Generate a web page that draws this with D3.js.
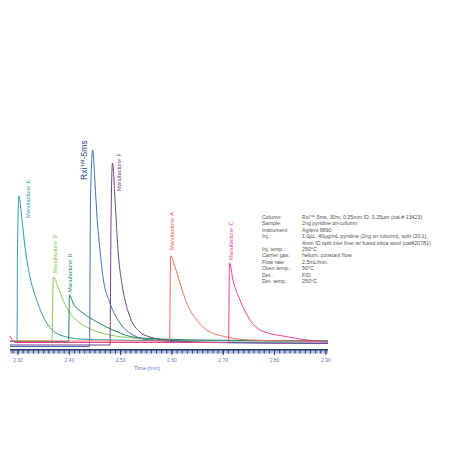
<!DOCTYPE html>
<html>
<head>
<meta charset="utf-8">
<script src="https://cdn.jsdelivr.net/npm/d3@7"></script>
<style>
  body { margin:0; background:#fff; }
  svg { display:block; }
</style>
</head>
<body>
<svg id="chart" width="454" height="454"></svg>
<script>
// ---- data (time in min, signal in arbitrary units) ----
let seriesNames = ["Manufacturer E","Manufacturer B","Manufacturer D","Rxi\u2122-5ms","Manufacturer F","Manufacturer A","Manufacturer C"];
let seriesColors = ["#2a9cab","#8cc754","#23806c","#3f72b8","#6e4589","#f26f5e","#e8409c"];
let labelColors  = ["#2a9cab","#86c04e","#23806c","#1d3f8f","#6e4589","#f0614f","#e8409c"];

let timeE = [2.2844,2.2981,2.2990,2.3019,2.3072,2.3136,2.3234,2.3364,2.3559,2.3819,2.4208,2.4793,2.5573,2.9042];
let sigE  = [0.5,1,92,146,125,95,65,42,19,7,3,2,1.5,1];

let timeB = [2.2844,2.3663,2.3688,2.3780,2.3877,2.4013,2.4208,2.4462,2.4793,2.5241,2.5573,2.6547,2.9042];
let sigB  = [1,1,65,55,42,29,19,12,7,4,2.5,1.5,1];

let timeD = [2.2844,2.3984,2.4004,2.4072,2.4267,2.4540,2.4852,2.5241,2.5573,2.6547,2.9042];
let sigD  = [0.5,0.5,47,39,29,20,12,5,3.5,2,1];

let timeRxi = [2.2844,2.4394,2.4413,2.4456,2.4501,2.4540,2.4598,2.4657,2.4793,2.4988,2.5241,2.5573,2.6547,2.9042];
let sigRxi  = [-4.5,-4.5,142,192,159,125,92,65,39,19,7,2,-0.5,-1];

let timeF = [2.2844,2.4793,2.4813,2.4842,2.4891,2.4949,2.5047,2.5183,2.5378,2.5573,2.5963,2.6937,2.9042];
let sigF  = [-3,-3,122,179,142,92,52,25,10,5,1.5,-0.5,-1.5];

let timeA = [2.2844,2.5953,2.5976,2.6060,2.6157,2.6288,2.6483,2.6678,2.7068,2.7522,2.8301,2.9042];
let sigA  = [1,1,86,75,59,39,22,12,5,2,1,0.5];

let timeC = [2.2844,2.2942,2.7103,2.7122,2.7190,2.7327,2.7522,2.7717,2.8238,2.8750,2.9042];
let sigC  = [6,-0.5,-0.5,79,62,42,22,12,5.3,1.3,0];

let majorTicks = [2.30,2.40,2.50,2.60,2.70,2.80,2.90];
let tickLabels = ["2.30","2.40","2.50","2.60","2.70","2.80","2.90"];
let axisTitle = "Time (min)";

let condLabels = ["Column:","Sample:","Instrument:","Inj.:","","Inj. temp.:","Carrier gas:","Flow rate:","Oven temp.:","Det.:","Det. temp.:"];
let condValues = ["Rxi\u2122-5ms, 30m, 0.25mm ID, 0.25\u00b5m (cat.# 13423)",
                  "2ng pyridine on-column",
                  "Agilent 6890",
                  "1.0\u00b5L, 40\u00b5g/mL pyridine (2ng on column), split (20:1),",
                  "4mm ID split inlet liner w/ fused silica wool (cat#20781)",
                  "250\u00b0C",
                  "helium, constant flow",
                  "2.5mL/min.",
                  "50\u00b0C",
                  "FID",
                  "250\u00b0C"];

// ---- layout ----
let svg = d3.select("#chart")
let x = d3.scaleLinear().domain([2.2844, 2.9042]).range([10, 328])
let y = d3.scaleLinear().domain([0, 200]).range([342, 142])

let allTimes = [timeE,timeB,timeD,timeRxi,timeF,timeA,timeC]
let allSigs  = [sigE,sigB,sigD,sigRxi,sigF,sigA,sigC]
let series = seriesNames.map(function(name,i){
    return { name:name, color:seriesColors[i], labelColor:labelColors[i],
             pts: allTimes[i].map(function(t,j){ return [t, allSigs[i][j]]; }) }
})

// label offsets from apex (px): dx, dy
let labelOffsets = [[11.5,22],[4,-4],[2,-3],[-6,30],[8.5,28],[3.5,-6],[4,-3]]

// ---- axis ----
let axisG = svg.append("g").attr("id","axis")
axisG.append("rect")
     .attr("x",x.range()[0]).attr("y",350)
     .attr("width",x.range()[1]-x.range()[0]).attr("height",3.5)
     .attr("fill","#b3c1e2")
let minorTicks = d3.range(0,63).map(function(i){ return 2.29 + i*0.01; }).filter(function(t){ return t>=2.2844 && t<=2.9042; })
axisG.selectAll("line.minor")
     .data(minorTicks)
     .enter().append("line")
     .attr("class","minor")
     .attr("x1",function(d){return x(d);}).attr("x2",function(d){return x(d);})
     .attr("y1",349.5).attr("y2",353.5)
     .attr("stroke","#2b3b6e").attr("stroke-width",1)
axisG.append("line")
     .attr("x1",x.range()[0]).attr("x2",x.range()[1])
     .attr("y1",349.7).attr("y2",349.7)
     .attr("stroke","#2b3b6e").attr("stroke-width",1.6)
axisG.selectAll("line.major")
     .data(majorTicks)
     .enter().append("line")
     .attr("class","major")
     .attr("x1",function(d){return x(d);}).attr("x2",function(d){return x(d);})
     .attr("y1",349).attr("y2",355)
     .attr("stroke","#2b3b6e").attr("stroke-width",1)
axisG.selectAll("text.tick")
     .data(majorTicks)
     .enter().append("text")
     .attr("class","tick")
     .attr("x",function(d){return x(d);})
     .attr("y",361.5)
     .attr("text-anchor","middle")
     .attr("font-family","Liberation Sans, Arial, sans-serif")
     .attr("font-size",5)
     .attr("fill","#5a7cc0")
     .text(function(d,i){ return tickLabels[i]; })
axisG.append("text")
     .attr("x",147).attr("y",370)
     .attr("text-anchor","middle")
     .attr("font-family","Liberation Sans, Arial, sans-serif")
     .attr("font-size",5.5)
     .attr("fill","#5a7cc0")
     .text(axisTitle)

// ---- traces ----
let line = d3.line()
             .x(function(d){return x(d[0]);})
             .y(function(d){return y(d[1]);})
             .curve(d3.curveMonotoneX)

let traces = svg.append("g").attr("id","traces")
traces.selectAll("path")
      .data(series)
      .enter().append("path")
      .attr("d",function(d){return line(d.pts);})
      .attr("fill","none")
      .attr("stroke",function(d){return d.color;})
      .attr("stroke-width",1)

// ---- peak labels ----
traces.selectAll("text")
      .data(series)
      .enter().append("text")
      .attr("transform",function(d,i){
          let apex = d.pts.reduce(function(a,b){ return b[1]>a[1] ? b : a; })
          return "translate(" + (x(apex[0])+labelOffsets[i][0]) + "," + (y(apex[1])+labelOffsets[i][1]) + ") rotate(-90)"
      })
      .attr("font-family","Liberation Sans Narrow, Liberation Sans, Arial, sans-serif")
      .attr("font-size",function(d,i){ return i==3 ? 8.5 : 5.6; })
      .attr("fill",function(d){return d.labelColor;})
      .text(function(d){return d.name;})

// ---- conditions block ----
let cond = svg.append("g").attr("id","conditions")
           .attr("font-family","Liberation Sans, Arial, sans-serif")
           .attr("font-size",5.3)
           .attr("fill","#505050")
cond.selectAll("text.lab")
    .data(condLabels)
    .enter().append("text")
    .attr("class","lab")
    .attr("x",262)
    .attr("y",function(d,i){ return 219 + i*6.4; })
    .text(function(d){return d;})
cond.selectAll("text.val")
    .data(condValues)
    .enter().append("text")
    .attr("class","val")
    .attr("x",302)
    .attr("y",function(d,i){ return 219 + i*6.4; })
    .text(function(d){return d;})
</script>
</body>
</html>
